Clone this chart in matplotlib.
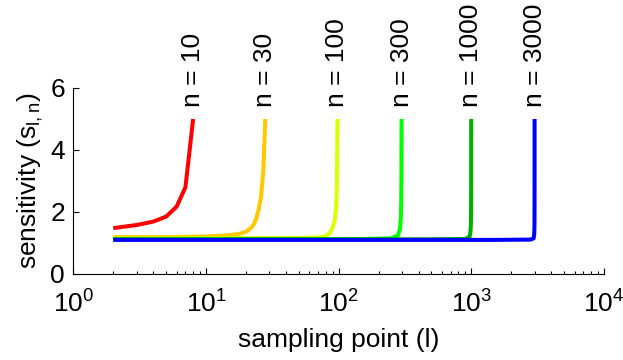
import matplotlib
matplotlib.use("Agg")
import matplotlib.pyplot as plt

plt.rcParams['font.family'] = ['Liberation Sans', 'DejaVu Sans']
plt.rcParams['mathtext.default'] = 'regular'

labels = ["n = 10", "n = 30", "n = 100", "n = 300", "n = 1000", "n = 3000"]
colors = ["#ff0000", "#ffc800", "#ddff00", "#00ff00", "#00b000", "#0000ff"]

l_10 = [2, 3, 4, 5, 6, 7, 8]
s_10 = [1.48, 1.58, 1.69, 1.85, 2.17, 2.8, 5.0]

l_30 = [2, 5, 10, 15, 18, 20, 22, 23, 24, 25, 26, 27, 28]
s_30 = [1.19, 1.19, 1.21, 1.25, 1.3, 1.36, 1.5, 1.62, 1.8, 2.1, 2.5, 3.3, 5.0]

l_100 = [2, 50, 70, 80, 86, 90, 93, 95, 96, 97, 98]
s_100 = [1.15, 1.16, 1.18, 1.22, 1.33, 1.5, 1.7, 2.0, 2.3, 2.9, 5.0]

l_300 = [2, 150, 250, 280, 290, 294, 296, 297, 298]
s_300 = [1.13, 1.13, 1.15, 1.25, 1.45, 1.8, 2.3, 2.9, 5.0]

l_1000 = [2, 500, 900, 970, 985, 992, 995, 997, 998]
s_1000 = [1.12, 1.12, 1.13, 1.2, 1.35, 1.6, 2.0, 2.8, 5.0]

l_3000 = [2, 1500, 2800, 2950, 2980, 2990, 2994, 2996, 2997, 2998]
s_3000 = [1.1, 1.1, 1.11, 1.15, 1.3, 1.5, 1.8, 2.3, 2.8, 5.0]

series_l = [l_10, l_30, l_100, l_300, l_1000, l_3000]
series_s = [s_10, s_30, s_100, s_300, s_1000, s_3000]

FS = 19

fig = plt.figure(figsize=(6.23, 3.60), dpi=100)
ax = fig.add_axes([0.1177, 0.2389, 0.8518, 0.5167])

for ls, ss, c, lab in zip(series_l, series_s, colors, labels):
    ax.plot(ls, ss, color=c, lw=2.9, solid_joinstyle='round', solid_capstyle='butt')
    ax.text(ls[-1], 5.4, lab, rotation=90, ha='center', va='bottom', fontsize=FS)

ax.set_xscale('log')
ax.set_xlim(1, 1e4)
ax.set_ylim(0, 6)
ax.set_yticks([0, 2, 4, 6])
ax.set_xticks([1, 10, 100, 1000, 10000])
ax.set_xticklabels([r'$10^{0}$', r'$10^{1}$', r'$10^{2}$', r'$10^{3}$', r'$10^{4}$'])
ax.spines['top'].set_visible(False)
ax.spines['right'].set_visible(False)
for sp in ax.spines.values():
    sp.set_linewidth(0.8)
ax.tick_params(which='major', direction='in', length=4, width=0.8, labelsize=FS)
ax.tick_params(axis='y', pad=6)
ax.tick_params(axis='x', pad=12)
ax.tick_params(which='minor', direction='in', length=2, width=0.8)
ax.set_ylabel('sensitivity (s$_{l,n}$)', fontsize=FS, labelpad=4)
fig.text(0.543, 1 - 347 / 360, 'sampling point (l)', fontsize=FS,
         ha='center', va='baseline')

fig.savefig('out.png', dpi=100)
